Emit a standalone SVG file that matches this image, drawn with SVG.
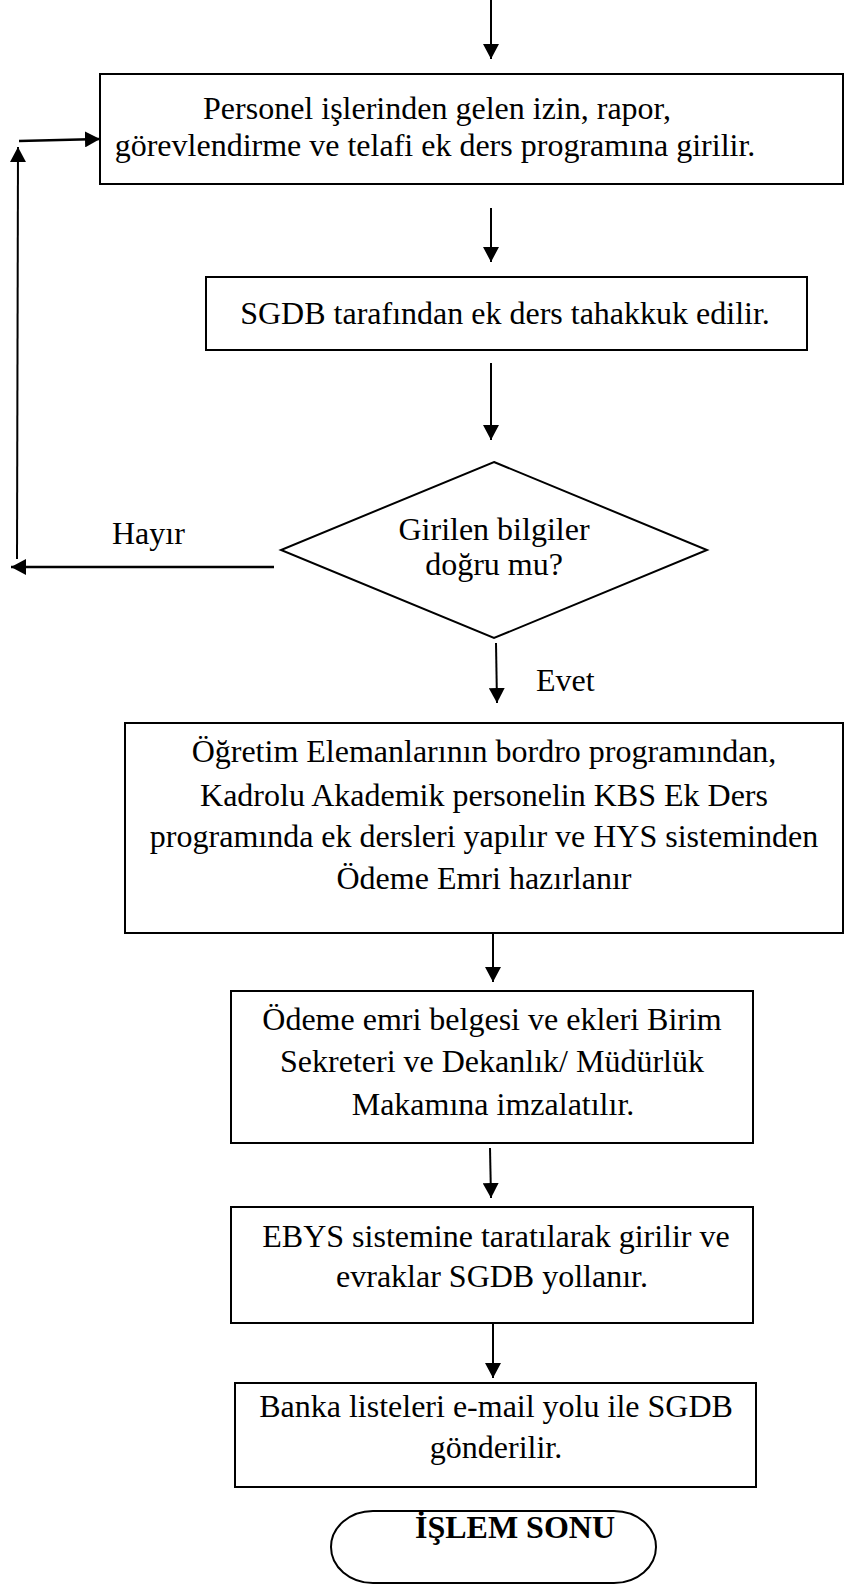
<svg xmlns="http://www.w3.org/2000/svg" width="844" height="1585" viewBox="0 0 844 1585">
<style>
.box{fill:#fff;stroke:#000;stroke-width:2}
.ln{fill:none;stroke:#000;stroke-width:2}
.thk{stroke-width:2.6}
.t{font-family:"Liberation Serif","Times New Roman",serif;font-size:32px;fill:#000;text-anchor:middle}
.l{font-family:"Liberation Serif","Times New Roman",serif;font-size:32px;fill:#000}
.b{font-weight:bold}
</style>
<defs>
<marker id="ah" markerUnits="userSpaceOnUse" viewBox="0 0 15 16" refX="15" refY="8" markerWidth="15" markerHeight="16" orient="auto">
<path d="M0,0 L15,8 L0,16 z" fill="#000"/>
</marker>
</defs>
<rect width="844" height="1585" fill="#fff"/>
<g id="connectors">
<line class="ln" x1="491" y1="0" x2="491" y2="59" marker-end="url(#ah)"/>
<line class="ln" x1="491" y1="208" x2="491" y2="262" marker-end="url(#ah)"/>
<line class="ln" x1="491" y1="363" x2="491" y2="440" marker-end="url(#ah)"/>
<line class="ln" x1="496" y1="643" x2="497" y2="703" marker-end="url(#ah)"/>
<line class="ln" x1="493" y1="933" x2="493" y2="982" marker-end="url(#ah)"/>
<line class="ln" x1="490" y1="1148" x2="491" y2="1198" marker-end="url(#ah)"/>
<line class="ln" x1="493" y1="1323" x2="493" y2="1378" marker-end="url(#ah)"/>
<line class="ln thk" x1="274" y1="567" x2="11" y2="567" marker-end="url(#ah)"/>
<line class="ln" x1="17" y1="559" x2="18" y2="147" marker-end="url(#ah)"/>
<line class="ln thk" x1="19" y1="141" x2="100" y2="139" marker-end="url(#ah)"/>
</g>
<g id="n1">
<rect class="box" x="100" y="74" width="743" height="110"/>
<text class="t" x="437" y="119">Personel işlerinden gelen izin, rapor,</text>
<text class="t" x="435" y="156">görevlendirme ve telafi ek ders programına girilir.</text>
</g>
<g id="n2">
<rect class="box" x="206" y="277" width="601" height="73"/>
<text class="t" x="505" y="324">SGDB tarafından ek ders tahakkuk edilir.</text>
</g>
<g id="n3">
<polygon class="box" points="494,462 707,550 494,638 281,550"/>
<text class="t" x="494" y="540">Girilen bilgiler</text>
<text class="t" x="494" y="575">doğru mu?</text>
</g>
<g id="lbl-hayir">
<text class="l" x="112" y="544">Hayır</text>
</g>
<g id="lbl-evet">
<text class="l" x="536" y="691">Evet</text>
</g>
<g id="n4">
<rect class="box" x="125" y="723" width="718" height="210"/>
<text class="t" x="484" y="762">Öğretim Elemanlarının bordro programından,</text>
<text class="t" x="484" y="806">Kadrolu Akademik personelin KBS Ek Ders</text>
<text class="t" x="484" y="847">programında ek dersleri yapılır ve HYS sisteminden</text>
<text class="t" x="484" y="889">Ödeme Emri hazırlanır</text>
</g>
<g id="n5">
<rect class="box" x="231" y="991" width="522" height="152"/>
<text class="t" x="492" y="1030">Ödeme emri belgesi ve ekleri Birim</text>
<text class="t" x="492" y="1072">Sekreteri ve Dekanlık/ Müdürlük</text>
<text class="t" x="493" y="1115">Makamına imzalatılır.</text>
</g>
<g id="n6">
<rect class="box" x="231" y="1207" width="522" height="116"/>
<text class="t" x="496" y="1247">EBYS sistemine taratılarak girilir ve</text>
<text class="t" x="492" y="1287">evraklar SGDB yollanır.</text>
</g>
<g id="n7">
<rect class="box" x="235" y="1383" width="521" height="104"/>
<text class="t" x="496" y="1417">Banka listeleri e-mail yolu ile SGDB</text>
<text class="t" x="496" y="1458">gönderilir.</text>
</g>
<g id="n8">
<rect class="box" x="331" y="1511" width="325" height="72" rx="42" ry="36"/>
<text class="t b" x="515" y="1538">İŞLEM SONU</text>
</g>
</svg>
